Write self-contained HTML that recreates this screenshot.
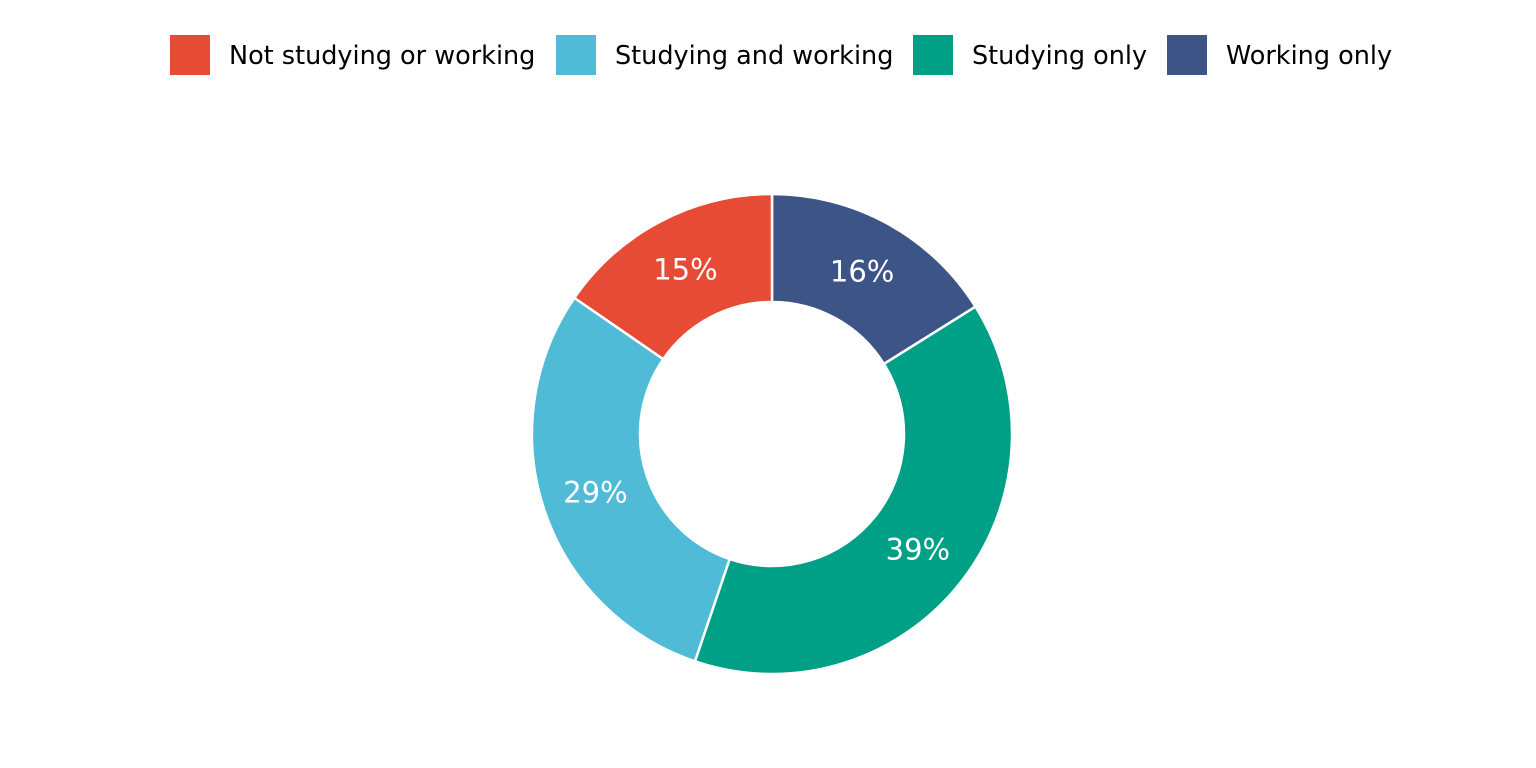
<!DOCTYPE html>
<html><head><meta charset="utf-8"><style>
body{margin:0;background:#fff;}
svg{display:block;font-family:"DejaVu Sans","Liberation Sans",sans-serif;}
</style></head><body>
<svg id="chart" width="1536" height="768">
<g id="legend"></g>
<g id="slices"></g>
<g id="labels"></g>
</svg>
<script>
const categories = ["Working only","Studying only","Studying and working","Not studying or working"];
const values = [16.1, 39.1, 29.4, 15.4];
const valueLabels = ["16%","39%","29%","15%"];
const colors = ["#3d5487","#00a087","#4fbbd6","#e64b35"];
const legendOrder = ["Not studying or working","Studying and working","Studying only","Working only"];

const NS="http://www.w3.org/2000/svg";
const cx=772, cy=434, R=240, r=132;
const total = values.reduce((a,b)=>a+b,0);
function pt(rad, frac){const a=frac*2*Math.PI;return [cx+rad*Math.sin(a), cy-rad*Math.cos(a)];}
const sg=document.getElementById('slices'), lg=document.getElementById('labels');
let cum=0;
values.forEach((v,i)=>{
  const f0=cum/total, f1=(cum+v)/total; cum+=v;
  const large=(f1-f0)>0.5?1:0;
  const [x0,y0]=pt(R,f0),[x1,y1]=pt(R,f1),[x2,y2]=pt(r,f1),[x3,y3]=pt(r,f0);
  const p=document.createElementNS(NS,'path');
  p.setAttribute('d',`M${x0},${y0}A${R},${R} 0 ${large} 1 ${x1},${y1}L${x2},${y2}A${r},${r} 0 ${large} 0 ${x3},${y3}Z`);
  p.setAttribute('fill',colors[i]);p.setAttribute('stroke','#fff');p.setAttribute('stroke-width','2.5');
  
  
  sg.appendChild(p);
  const [lx,ly]=pt((R+r)/2,(f0+f1)/2);
  const t=document.createElementNS(NS,'text');
  t.setAttribute('x',lx);t.setAttribute('y',ly+10);t.setAttribute('text-anchor','middle');
  t.setAttribute('fill','#fff');t.setAttribute('font-size','29');
  t.textContent=valueLabels[i];
  
  
  lg.appendChild(t);
});
const leg=document.getElementById('legend');
const boxX=[170,556,913,1167];
legendOrder.forEach((c,j)=>{
  const i=categories.indexOf(c);
  const g=document.createElementNS(NS,'g');
  
  
  const b=document.createElementNS(NS,'rect');
  b.setAttribute('x',boxX[j]);b.setAttribute('y',35);b.setAttribute('width',40);b.setAttribute('height',40);b.setAttribute('fill',colors[i]);
  
  
  const t=document.createElementNS(NS,'text');
  t.setAttribute('x',boxX[j]+59);t.setAttribute('y',64);t.setAttribute('font-size','25.5');t.setAttribute('fill','#000');
  t.textContent=c;
  
  
  g.appendChild(b);g.appendChild(t);leg.appendChild(g);
});
</script>
</body></html>
